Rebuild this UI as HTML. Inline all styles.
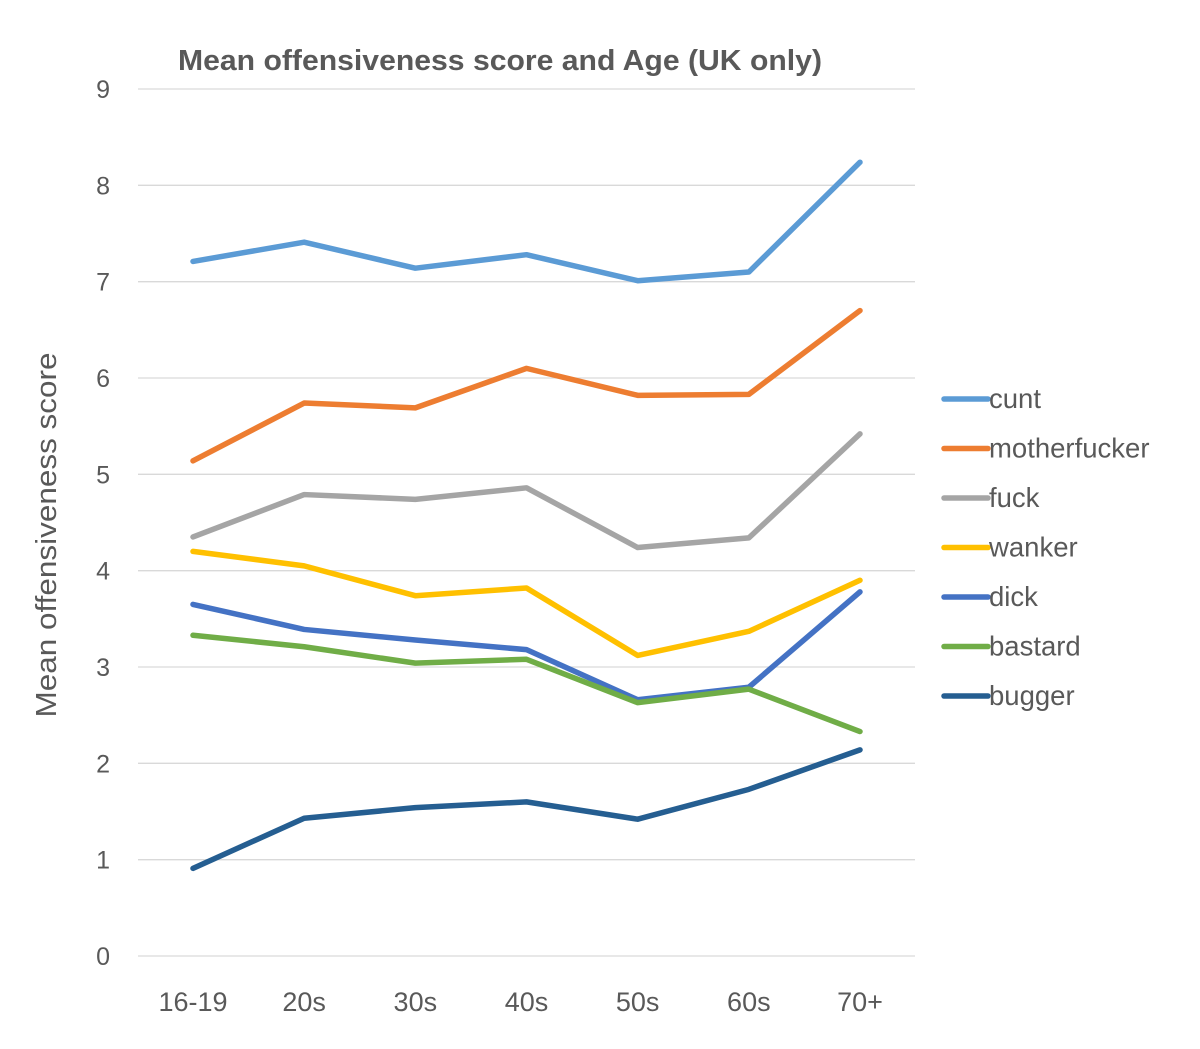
<!DOCTYPE html>
<html><head><meta charset="utf-8"><style>
body{margin:0;background:#fff;}
text{font-family:"Liberation Sans",sans-serif;}
</style></head><body>
<svg id="chart" width="1200" height="1044" xmlns="http://www.w3.org/2000/svg">
<text x="500" y="70" text-anchor="middle" font-size="29" font-weight="bold" fill="#595959" textLength="644" lengthAdjust="spacingAndGlyphs">Mean offensiveness score and Age (UK only)</text>
<text transform="translate(56,535) rotate(-90)" text-anchor="middle" font-size="29" fill="#595959" textLength="365" lengthAdjust="spacingAndGlyphs">Mean offensiveness score</text>
<g id="grid"></g><g id="lines"></g><g id="legend"></g>
</svg>
<script>
const categories=["16-19","20s","30s","40s","50s","60s","70+"];
const yTicks=[0,1,2,3,4,5,6,7,8,9];
const seriesNames=["cunt","motherfucker","fuck","wanker","dick","bastard","bugger"];
const seriesColors=["#5B9BD5","#ED7D31","#A5A5A5","#FFC000","#4472C4","#70AD47","#255E91"];
const cunt=[7.21,7.41,7.14,7.28,7.01,7.10,8.24];
const motherfucker=[5.14,5.74,5.69,6.10,5.82,5.83,6.70];
const fuck=[4.35,4.79,4.74,4.86,4.24,4.34,5.42];
const wanker=[4.20,4.05,3.74,3.82,3.12,3.37,3.90];
const dick=[3.65,3.39,3.28,3.18,2.66,2.79,3.78];
const bastard=[3.33,3.21,3.04,3.08,2.63,2.77,2.33];
const bugger=[0.91,1.43,1.54,1.60,1.42,1.73,2.14];
const seriesValues=[cunt,motherfucker,fuck,wanker,dick,bastard,bugger];
const NS="http://www.w3.org/2000/svg";
const y=v=>956-v*(956-89)/9;
const x=i=>193+i*(860-193)/(categories.length-1);
function mk(tag,attrs,parent){const e=document.createElementNS(NS,tag);for(const k in attrs)e.setAttribute(k,attrs[k]);parent.appendChild(e);return e;}
const grid=document.getElementById('grid');
yTicks.forEach(t=>{
 const l=mk('line',{x1:138,x2:915,y1:y(t),y2:y(t),stroke:'#d9d9d9','stroke-width':1.3},grid);
 
 
 const tx=mk('text',{x:110,y:y(t)+9,'text-anchor':'end','font-size':25,fill:'#595959'},grid);
 tx.textContent=t;
 
 
});
categories.forEach((c,i)=>{
 const tx=mk('text',{x:x(i),y:1011,'text-anchor':'middle','font-size':27,fill:'#595959'},grid);
 tx.textContent=c;
 
 
});
const lines=document.getElementById('lines');
const legend=document.getElementById('legend');
seriesValues.forEach((vals,s)=>{
 const p=mk('polyline',{points:vals.map((v,i)=>x(i)+','+y(v)).join(' '),fill:'none',stroke:seriesColors[s],'stroke-width':5.5,'stroke-linecap':'round','stroke-linejoin':'round'},lines);
 
 
 const ly=399+s*49.5;
 const g=mk('g',{},legend);
 
 
 mk('line',{x1:944,x2:988,y1:ly,y2:ly,stroke:seriesColors[s],'stroke-width':5.5,'stroke-linecap':'round'},g);
 const t=mk('text',{x:989,y:ly+9,'font-size':27.5,fill:'#595959'},g);
 t.textContent=seriesNames[s];
});
</script>
</body></html>
